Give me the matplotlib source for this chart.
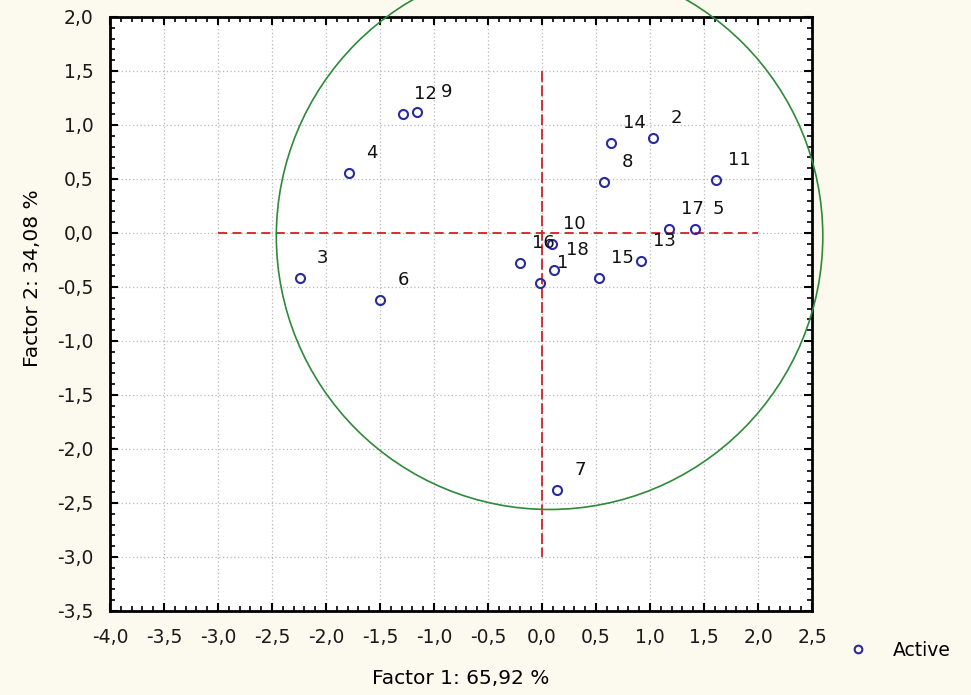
import numpy as np
import matplotlib.pyplot as plt
from matplotlib.patches import Ellipse
from matplotlib.ticker import MultipleLocator, FuncFormatter

# Factor scores of the active cases (Factor 1, Factor 2)
case_ids = ["1", "2", "3", "4", "5", "6", "7", "8", "9",
            "10", "11", "12", "13", "14", "15", "16", "17", "18"]
factor1 = [-0.02, 1.03, -2.245, -1.79, 1.42, -1.50, 0.14, 0.575, -1.16,
           0.09, 1.61, -1.29, 0.92, 0.64, 0.53, -0.20, 1.18, 0.11]
factor2 = [-0.46, 0.88, -0.42, 0.555, 0.04, -0.62, -2.38, 0.47, 1.12,
           -0.10, 0.49, 1.10, -0.26, 0.83, -0.42, -0.28, 0.04, -0.34]

var_f1 = "65,92"
var_f2 = "34,08"

# reference circle (centre, radius) and cross-hair extents
circle_center = (0.07, -0.03)
circle_radius = 2.53
hline_span = (-3.0, 2.0)
vline_span = (1.5, -3.0)

BG = "#fcf9ee"
FONT = "DejaVu Sans"
plt.rcParams["font.family"] = FONT

fig = plt.figure(figsize=(9.71, 6.95), dpi=100, facecolor=BG)
ax = fig.add_axes([110 / 971, 84 / 695, 702 / 971, 594 / 695])
ax.set_facecolor("white")

ax.set_xlim(-4.0, 2.5)
ax.set_ylim(-3.5, 2.0)

ax.xaxis.set_major_locator(MultipleLocator(0.5))
ax.yaxis.set_major_locator(MultipleLocator(0.5))
ax.xaxis.set_minor_locator(MultipleLocator(0.1))
ax.yaxis.set_minor_locator(MultipleLocator(0.1))
comma = FuncFormatter(lambda v, pos: f"{v:.1f}".replace(".", ",").replace("-0,0", "0,0"))
ax.xaxis.set_major_formatter(comma)
ax.yaxis.set_major_formatter(comma)
ax.tick_params(which="both", direction="in", top=True, right=True,
               color="black", labelsize=13.5, labelcolor="#1a1a1a")
ax.tick_params(which="major", length=6, width=1.5)
ax.tick_params(axis="x", which="major", pad=12)
ax.tick_params(axis="y", which="major", pad=12)
ax.tick_params(which="minor", length=3.5, width=1.2)

ax.grid(True, which="major", color="#b8b8b8", ls=(0, (1, 2)), lw=0.9)
ax.set_axisbelow(True)
for sp in ax.spines.values():
    sp.set_linewidth(2)
    sp.set_color("black")

# cross-hair through the origin
ax.plot(hline_span, [0, 0], color="#d0202a", lw=1.3, ls=(0, (5, 3)), zorder=2)
ax.plot([0, 0], vline_span, color="#d0202a", lw=1.3, ls=(0, (6, 2)), zorder=2)

circ = Ellipse(circle_center, 2 * circle_radius, 2 * circle_radius,
               fill=False, ec="#2e8a3a", lw=1.2, clip_on=False, zorder=3)
ax.add_patch(circ)

ax.plot(factor1, factor2, ls="none", marker="o", ms=6.5, mew=1.5,
        mfc="none", mec="#2a2aa0", zorder=4, label="Active")

# labels sit up and to the right of each point; "9" nudged clear of "12"
label_nudge = {"9": (7, 0)}
for cid, x, y in zip(case_ids, factor1, factor2):
    dx, dy = label_nudge.get(cid, (0, 0))
    ax.annotate(cid, (x, y), xytext=(23 + dx, 20 + dy), textcoords="offset pixels",
                ha="center", va="center", fontsize=13, color="#111111", zorder=5)

ax.set_xlabel(f"Factor 1: {var_f1} %", fontsize=14.5, labelpad=16)
fig.text(33 / 971, 1 - 278 / 695, f"Factor 2: {var_f2} %", rotation=90,
         ha="center", va="center", fontsize=14.5)

fig.legend(*ax.get_legend_handles_labels(), loc="center left",
           bbox_to_anchor=(822 / 971, 1 - 650 / 695), frameon=False,
           fontsize=13.5, handletextpad=0.9, markerscale=0.85)

fig.savefig("out.png", dpi=100, facecolor=BG)
